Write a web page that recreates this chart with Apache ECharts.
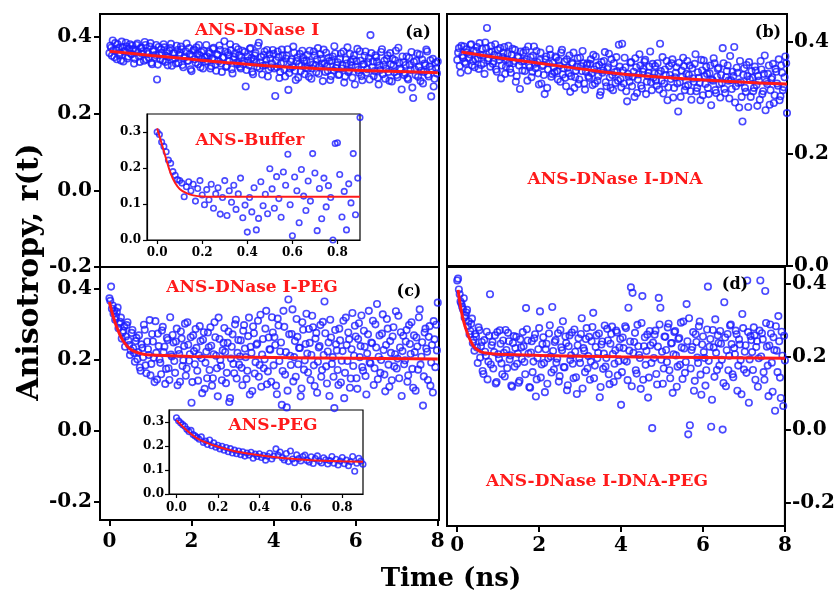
<!DOCTYPE html>
<html>
<head>
<meta charset="utf-8">
<script src="https://cdn.jsdelivr.net/npm/echarts@6/dist/echarts.min.js"></script>
<style>
  html, body { margin: 0; padding: 0; background: #fff; }
  #chart { width: 838px; height: 596px; }
</style>
</head>
<body>
<div id="chart"></div>
<script>
// 时间轴采样：主图 0~8 ns，每 0.04 ns 一组点，另一组错开 0.02 ns；插图 0~0.9 ns，每 0.01 ns 一个点
const mainStep = 0.04
const insetStep = 0.01

// (a) ANS-DNase I
const rA = [
  0.358, 0.372, 0.391, 0.347, 0.366, 0.381, 0.352, 0.339, 0.374, 0.362, 0.385, 0.344, 0.369, 0.357, 0.378, 0.331, 0.366, 0.383, 0.349, 0.371,
  0.356, 0.338, 0.379, 0.362, 0.346, 0.384, 0.329, 0.367, 0.353, 0.289, 0.374, 0.341, 0.358, 0.381, 0.335, 0.362, 0.348, 0.371, 0.325, 0.357,
  0.344, 0.377, 0.332, 0.359, 0.368, 0.321, 0.349, 0.383, 0.338, 0.355, 0.311, 0.364, 0.342, 0.373, 0.329, 0.352, 0.361, 0.318, 0.347, 0.379,
  0.336, 0.357, 0.324, 0.369, 0.341, 0.312, 0.353, 0.378, 0.331, 0.346, 0.389, 0.322, 0.359, 0.337, 0.365, 0.305, 0.348, 0.374, 0.329, 0.352,
  0.318, 0.364, 0.337, 0.271, 0.349, 0.326, 0.371, 0.309, 0.341, 0.358, 0.322, 0.385, 0.334, 0.302, 0.353, 0.327, 0.366, 0.315, 0.344, 0.331,
  0.356, 0.246, 0.321, 0.348, 0.309, 0.367, 0.333, 0.297, 0.351, 0.262, 0.318, 0.342, 0.375, 0.312, 0.337, 0.294, 0.356, 0.325, 0.346, 0.303,
  0.339, 0.317, 0.364, 0.291, 0.328, 0.352, 0.308, 0.371, 0.322, 0.343, 0.285, 0.331, 0.359, 0.312, 0.337, 0.298, 0.349, 0.376, 0.319, 0.334,
  0.302, 0.357, 0.326, 0.281, 0.341, 0.373, 0.313, 0.335, 0.294, 0.352, 0.322, 0.369, 0.307, 0.338, 0.287, 0.329, 0.362, 0.316, 0.345, 0.405,
  0.321, 0.298, 0.352, 0.335, 0.276, 0.314, 0.368, 0.327, 0.291, 0.343, 0.309, 0.358, 0.284, 0.326, 0.339, 0.301, 0.372, 0.318, 0.263, 0.334,
  0.306, 0.349, 0.289, 0.327, 0.361, 0.241, 0.315, 0.338, 0.296, 0.354, 0.312, 0.279, 0.331, 0.367, 0.302, 0.323, 0.245, 0.343, 0.291, 0.318,
  0.336
]
const rAmid = [
  0.377, 0.351, 0.366, 0.384, 0.342, 0.371, 0.359, 0.388, 0.336, 0.364, 0.375, 0.349, 0.381, 0.355, 0.368, 0.343, 0.379, 0.361, 0.335, 0.372,
  0.363, 0.387, 0.341, 0.356, 0.375, 0.333, 0.362, 0.347, 0.379, 0.328, 0.354, 0.368, 0.339, 0.373, 0.351, 0.326, 0.364, 0.382, 0.343, 0.358,
  0.331, 0.366, 0.353, 0.375, 0.327, 0.345, 0.362, 0.338, 0.371, 0.316, 0.351, 0.367, 0.333, 0.356, 0.379, 0.321, 0.342, 0.364, 0.336, 0.349,
  0.361, 0.318, 0.344, 0.372, 0.328, 0.355, 0.337, 0.366, 0.309, 0.347, 0.362, 0.324, 0.353, 0.381, 0.316, 0.341, 0.357, 0.333, 0.368, 0.322,
  0.347, 0.329, 0.361, 0.314, 0.338, 0.369, 0.345, 0.303, 0.352, 0.333, 0.377, 0.318, 0.348, 0.325, 0.362, 0.341, 0.297, 0.355, 0.321, 0.366,
  0.318, 0.339, 0.362, 0.293, 0.331, 0.352, 0.315, 0.344, 0.368, 0.306, 0.336, 0.322, 0.359, 0.288, 0.347, 0.329, 0.311, 0.364, 0.337, 0.319,
  0.353, 0.296, 0.334, 0.318, 0.362, 0.326, 0.342, 0.304, 0.355, 0.331, 0.367, 0.309, 0.324, 0.346, 0.288, 0.338, 0.313, 0.357, 0.326, 0.301,
  0.344, 0.318, 0.362, 0.297, 0.331, 0.309, 0.356, 0.325, 0.342, 0.276, 0.337, 0.314, 0.363, 0.298, 0.329, 0.351, 0.307, 0.334, 0.289, 0.358,
  0.336, 0.311, 0.347, 0.294, 0.326, 0.361, 0.303, 0.338, 0.317, 0.352, 0.286, 0.329, 0.343, 0.308, 0.364, 0.295, 0.332, 0.314, 0.349, 0.301,
  0.327, 0.293, 0.346, 0.314, 0.268, 0.335, 0.301, 0.357, 0.322, 0.285, 0.341, 0.309, 0.326, 0.362, 0.297, 0.339, 0.316, 0.271, 0.333, 0.305
]
const fitATime = [0, 1, 2, 3, 4, 5, 6, 7, 8]
const fitA = [0.363, 0.352, 0.342, 0.332, 0.324, 0.318, 0.313, 0.310, 0.307]

// (b) ANS-DNase I-DNA
const rB = [
  0.368, 0.389, 0.345, 0.376, 0.392, 0.361, 0.381, 0.372, 0.395, 0.358, 0.384, 0.369, 0.391, 0.352, 0.377, 0.388, 0.362, 0.399, 0.425, 0.371,
  0.356, 0.383, 0.365, 0.396, 0.347, 0.374, 0.389, 0.358, 0.381, 0.343, 0.369, 0.393, 0.352, 0.377, 0.362, 0.386, 0.339, 0.372, 0.316, 0.365,
  0.381, 0.348, 0.369, 0.392, 0.355, 0.337, 0.376, 0.361, 0.384, 0.344, 0.368, 0.326, 0.359, 0.307, 0.374, 0.351, 0.387, 0.338, 0.363, 0.346,
  0.372, 0.333, 0.358, 0.381, 0.342, 0.365, 0.321, 0.354, 0.376, 0.339, 0.361, 0.318, 0.349, 0.371, 0.333, 0.357, 0.384, 0.326, 0.347, 0.362,
  0.336, 0.369, 0.323, 0.351, 0.374, 0.331, 0.359, 0.311, 0.345, 0.366, 0.328, 0.352, 0.379, 0.318, 0.341, 0.362, 0.327, 0.348, 0.395, 0.334,
  0.397, 0.326, 0.355, 0.294, 0.338, 0.363, 0.321, 0.347, 0.371, 0.309, 0.342, 0.358, 0.317, 0.352, 0.368, 0.329, 0.345, 0.383, 0.314, 0.336,
  0.357, 0.322, 0.344, 0.397, 0.331, 0.308, 0.351, 0.366, 0.319, 0.341, 0.362, 0.301, 0.337, 0.355, 0.276, 0.328, 0.349, 0.372, 0.314, 0.343,
  0.323, 0.358, 0.297, 0.335, 0.361, 0.312, 0.346, 0.327, 0.368, 0.305, 0.339, 0.356, 0.318, 0.344, 0.287, 0.331, 0.362, 0.309, 0.352, 0.325,
  0.341, 0.389, 0.316, 0.337, 0.358, 0.299, 0.332, 0.347, 0.391, 0.321, 0.345, 0.283, 0.328, 0.258, 0.353, 0.311, 0.339, 0.364, 0.302, 0.336,
  0.318, 0.349, 0.286, 0.331, 0.366, 0.307, 0.343, 0.278, 0.325, 0.358, 0.314, 0.337, 0.291, 0.352, 0.326, 0.369, 0.303, 0.345, 0.319, 0.374,
  0.273
]
const rBmid = [
  0.381, 0.357, 0.393, 0.372, 0.364, 0.387, 0.349, 0.378, 0.396, 0.366, 0.355, 0.384, 0.371, 0.398, 0.359, 0.376, 0.343, 0.389, 0.367, 0.382,
  0.393, 0.361, 0.377, 0.351, 0.386, 0.368, 0.335, 0.373, 0.391, 0.356, 0.379, 0.362, 0.345, 0.388, 0.366, 0.329, 0.374, 0.358, 0.383, 0.349,
  0.366, 0.385, 0.331, 0.359, 0.373, 0.347, 0.392, 0.353, 0.364, 0.324, 0.381, 0.357, 0.341, 0.369, 0.318, 0.362, 0.377, 0.343, 0.355, 0.374,
  0.348, 0.367, 0.329, 0.386, 0.353, 0.336, 0.369, 0.344, 0.311, 0.363, 0.381, 0.337, 0.356, 0.325, 0.372, 0.348, 0.362, 0.315, 0.359, 0.339,
  0.361, 0.344, 0.377, 0.326, 0.357, 0.339, 0.305, 0.364, 0.349, 0.382, 0.321, 0.355, 0.337, 0.369, 0.314, 0.346, 0.373, 0.331, 0.356, 0.319,
  0.349, 0.372, 0.312, 0.343, 0.329, 0.364, 0.338, 0.302, 0.355, 0.333, 0.378, 0.322, 0.347, 0.365, 0.307, 0.339, 0.356, 0.328, 0.361, 0.344,
  0.331, 0.362, 0.315, 0.348, 0.373, 0.326, 0.341, 0.296, 0.357, 0.334, 0.369, 0.318, 0.345, 0.326, 0.363, 0.302, 0.338, 0.357, 0.321, 0.366,
  0.341, 0.312, 0.353, 0.329, 0.378, 0.318, 0.336, 0.296, 0.349, 0.367, 0.325, 0.343, 0.307, 0.358, 0.333, 0.371, 0.314, 0.338, 0.354, 0.301,
  0.327, 0.362, 0.309, 0.348, 0.331, 0.375, 0.316, 0.339, 0.292, 0.354, 0.327, 0.366, 0.302, 0.341, 0.318, 0.359, 0.284, 0.333, 0.348, 0.312,
  0.356, 0.323, 0.339, 0.297, 0.351, 0.312, 0.376, 0.329, 0.343, 0.288, 0.334, 0.361, 0.305, 0.347, 0.322, 0.296, 0.358, 0.314, 0.337, 0.362
]
const fitBTime = [0.1, 1, 2, 3, 4, 5, 6, 7, 8]
const fitB = [0.382, 0.372, 0.362, 0.352, 0.343, 0.337, 0.332, 0.328, 0.325]

// (c) ANS-DNase I-PEG
const rC = [
  0.372, 0.405, 0.352, 0.338, 0.321, 0.346, 0.301, 0.318, 0.276, 0.293, 0.265, 0.305, 0.241, 0.226, 0.283, 0.219, 0.252, 0.201, 0.268, 0.169,
  0.233, 0.298, 0.184, 0.251, 0.213, 0.156, 0.272, 0.205, 0.308, 0.144, 0.238, 0.191, 0.282, 0.221, 0.132, 0.261, 0.176, 0.319, 0.209, 0.248,
  0.163, 0.287, 0.227, 0.138, 0.259, 0.198, 0.301, 0.175, 0.242, 0.215, 0.079, 0.268, 0.187, 0.233, 0.141, 0.294, 0.204, 0.256, 0.118, 0.222,
  0.276, 0.171, 0.239, 0.148, 0.305, 0.211, 0.097, 0.258, 0.183, 0.226, 0.289, 0.134, 0.247, 0.081, 0.203, 0.271, 0.162, 0.312, 0.219, 0.186,
  0.254, 0.128, 0.297, 0.207, 0.169, 0.318, 0.236, 0.112, 0.274, 0.193, 0.245, 0.152, 0.326, 0.214, 0.176, 0.287, 0.131, 0.262, 0.228, 0.319,
  0.184, 0.241, 0.103, 0.296, 0.223, 0.073, 0.337, 0.158, 0.066, 0.369, 0.211, 0.272, 0.139, 0.252, 0.314, 0.187, 0.233, 0.119, 0.284, 0.198,
  0.329, 0.164, 0.247, 0.213, 0.291, 0.126, 0.275, 0.194, 0.238, 0.152, 0.306, 0.363, 0.181, 0.223, 0.098, 0.262, 0.207, 0.064, 0.243, 0.171,
  0.287, 0.136, 0.224, 0.092, 0.318, 0.196, 0.257, 0.147, 0.331, 0.211, 0.265, 0.118, 0.302, 0.238, 0.179, 0.281, 0.154, 0.217, 0.337, 0.189,
  0.246, 0.129, 0.299, 0.356, 0.208, 0.163, 0.273, 0.227, 0.111, 0.314, 0.186, 0.252, 0.142, 0.291, 0.215, 0.175, 0.323, 0.234, 0.098, 0.267,
  0.198, 0.283, 0.156, 0.244, 0.305, 0.121, 0.221, 0.262, 0.172, 0.341, 0.208, 0.071, 0.276, 0.231, 0.143, 0.294, 0.192, 0.108, 0.257, 0.298,
  0.360
]
const rCmid = [
  0.365, 0.343, 0.329, 0.312, 0.334, 0.288, 0.306, 0.259, 0.281, 0.236, 0.297, 0.254, 0.213, 0.275, 0.232, 0.194, 0.261, 0.221, 0.178, 0.243,
  0.207, 0.284, 0.162, 0.229, 0.311, 0.188, 0.251, 0.137, 0.219, 0.273, 0.201, 0.159, 0.292, 0.236, 0.174, 0.255, 0.143, 0.214, 0.269, 0.196,
  0.251, 0.128, 0.216, 0.279, 0.182, 0.238, 0.155, 0.305, 0.197, 0.263, 0.137, 0.224, 0.286, 0.169, 0.212, 0.252, 0.106, 0.277, 0.191, 0.148,
  0.235, 0.291, 0.127, 0.215, 0.263, 0.176, 0.318, 0.199, 0.142, 0.247, 0.221, 0.163, 0.279, 0.092, 0.236, 0.188, 0.299, 0.147, 0.255, 0.209,
  0.177, 0.281, 0.231, 0.146, 0.266, 0.102, 0.219, 0.293, 0.161, 0.242, 0.309, 0.185, 0.124, 0.258, 0.201, 0.337, 0.167, 0.229, 0.138, 0.276,
  0.263, 0.127, 0.315, 0.196, 0.248, 0.168, 0.292, 0.221, 0.113, 0.271, 0.185, 0.341, 0.207, 0.152, 0.264, 0.233, 0.097, 0.305, 0.172, 0.244,
  0.217, 0.286, 0.143, 0.323, 0.184, 0.259, 0.107, 0.234, 0.297, 0.171, 0.213, 0.274, 0.133, 0.248, 0.312, 0.188, 0.152, 0.283, 0.226, 0.129,
  0.254, 0.197, 0.309, 0.163, 0.241, 0.276, 0.121, 0.229, 0.182, 0.295, 0.148, 0.258, 0.207, 0.324, 0.169, 0.236, 0.102, 0.271, 0.193, 0.248,
  0.309, 0.176, 0.234, 0.145, 0.268, 0.199, 0.327, 0.158, 0.241, 0.287, 0.124, 0.219, 0.265, 0.181, 0.336, 0.203, 0.148, 0.277, 0.224, 0.187,
  0.251, 0.138, 0.297, 0.216, 0.174, 0.268, 0.113, 0.237, 0.319, 0.186, 0.249, 0.153, 0.287, 0.222, 0.264, 0.127, 0.241, 0.308, 0.179, 0.226
]
const fitCTime = [0, 0.05, 0.1, 0.15, 0.2, 0.3, 0.4, 0.5, 0.6, 0.8, 1, 2, 4, 6, 8]
const fitC = [0.362, 0.338, 0.318, 0.300, 0.285, 0.259, 0.242, 0.230, 0.223, 0.216, 0.213, 0.209, 0.206, 0.204, 0.202]

// (d) ANS-DNase I-DNA-PEG
const rD = [
  0.410, 0.385, 0.352, 0.338, 0.361, 0.314, 0.329, 0.297, 0.271, 0.305, 0.247, 0.263, 0.226, 0.281, 0.198, 0.241, 0.153, 0.214, 0.269, 0.187,
  0.372, 0.232, 0.168, 0.259, 0.131, 0.207, 0.273, 0.182, 0.245, 0.146, 0.219, 0.266, 0.193, 0.121, 0.238, 0.173, 0.255, 0.209, 0.134, 0.226,
  0.268, 0.186, 0.334, 0.245, 0.117, 0.212, 0.158, 0.251, 0.091, 0.197, 0.279, 0.143, 0.235, 0.183, 0.221, 0.126, 0.264, 0.201, 0.337, 0.165,
  0.246, 0.195, 0.132, 0.274, 0.218, 0.172, 0.256, 0.108, 0.229, 0.191, 0.267, 0.141, 0.214, 0.098, 0.251, 0.183, 0.306, 0.224, 0.158, 0.279,
  0.202, 0.137, 0.243, 0.321, 0.176, 0.259, 0.211, 0.089, 0.234, 0.167, 0.286, 0.197, 0.245, 0.125, 0.263, 0.208, 0.181, 0.272, 0.149, 0.226,
  0.068, 0.253, 0.191, 0.279, 0.136, 0.217, 0.391, 0.376, 0.241, 0.163, 0.288, 0.205, 0.112, 0.367, 0.229, 0.178, 0.261, 0.143, 0.232, 0.004,
  0.197, 0.272, 0.124, 0.362, 0.335, 0.214, 0.168, 0.255, 0.186, 0.291, 0.141, 0.238, 0.207, 0.271, 0.118, 0.249, 0.178, 0.226, 0.297, 0.156,
  0.345, -0.013, 0.012, 0.219, 0.268, 0.134, 0.241, 0.183, 0.297, 0.096, 0.256, 0.197, 0.163, 0.393, 0.228, 0.008, 0.274, 0.145, 0.211, 0.259,
  0.176, 0.236, 0.000, 0.350, 0.119, 0.263, 0.203, 0.289, 0.152, 0.224, 0.272, 0.107, 0.248, 0.191, 0.318, 0.165, 0.232, 0.410, 0.074, 0.257,
  0.213, 0.281, 0.137, 0.243, 0.196, 0.410, 0.265, 0.158, 0.381, 0.228, 0.092, 0.289, 0.184, 0.254, 0.052, 0.217, 0.312, 0.143, 0.269, 0.065,
  0.190
]
const rDmid = [
  0.415, 0.372, 0.347, 0.331, 0.308, 0.322, 0.284, 0.262, 0.291, 0.238, 0.217, 0.256, 0.183, 0.273, 0.229, 0.161, 0.246, 0.203, 0.138, 0.258,
  0.179, 0.241, 0.213, 0.127, 0.268, 0.195, 0.236, 0.152, 0.211, 0.274, 0.169, 0.243, 0.204, 0.118, 0.257, 0.224, 0.181, 0.129, 0.248, 0.194,
  0.229, 0.152, 0.276, 0.209, 0.115, 0.243, 0.187, 0.262, 0.138, 0.221, 0.325, 0.179, 0.254, 0.103, 0.236, 0.196, 0.287, 0.157, 0.216, 0.241,
  0.184, 0.265, 0.147, 0.226, 0.298, 0.171, 0.238, 0.122, 0.259, 0.204, 0.181, 0.275, 0.144, 0.232, 0.196, 0.263, 0.113, 0.217, 0.249, 0.168,
  0.255, 0.187, 0.282, 0.141, 0.227, 0.196, 0.264, 0.117, 0.242, 0.209, 0.173, 0.277, 0.152, 0.236, 0.283, 0.131, 0.218, 0.267, 0.188, 0.249,
  0.158, 0.224, 0.284, 0.187, 0.335, 0.242, 0.119, 0.211, 0.266, 0.154, 0.229, 0.197, 0.293, 0.137, 0.254, 0.216, 0.088, 0.271, 0.183, 0.239,
  0.261, 0.153, 0.228, 0.289, 0.192, 0.126, 0.256, 0.219, 0.281, 0.163, 0.237, 0.101, 0.268, 0.204, 0.173, 0.252, 0.294, 0.139, 0.223, 0.186,
  0.243, 0.306, 0.168, 0.227, 0.107, 0.262, 0.198, 0.284, 0.151, 0.234, 0.213, 0.121, 0.275, 0.189, 0.249, 0.082, 0.226, 0.303, 0.164, 0.238,
  0.271, 0.192, 0.128, 0.253, 0.218, 0.163, 0.286, 0.235, 0.144, 0.207, 0.262, 0.176, 0.234, 0.097, 0.279, 0.214, 0.156, 0.268, 0.193, 0.246,
  0.164, 0.259, 0.227, 0.118, 0.272, 0.201, 0.248, 0.137, 0.293, 0.176, 0.231, 0.264, 0.104, 0.219, 0.284, 0.158, 0.243, 0.087, 0.203, 0.258
]
const fitDTime = [0.02, 0.06, 0.1, 0.15, 0.2, 0.25, 0.3, 0.4, 0.5, 0.6, 0.8, 1, 2, 4, 6, 8]
const fitD = [0.384, 0.352, 0.326, 0.300, 0.281, 0.264, 0.250, 0.229, 0.219, 0.213, 0.209, 0.207, 0.204, 0.200, 0.198, 0.196]

// 插图 ANS-Buffer
const rBuffer = [
  0.300, 0.293, 0.272, 0.260, 0.245, 0.222, 0.213, 0.190, 0.180, 0.168,
  0.165, 0.158, 0.120, 0.148, 0.162, 0.137, 0.155, 0.108, 0.143, 0.165,
  0.125, 0.098, 0.140, 0.112, 0.155, 0.088, 0.128, 0.145, 0.072, 0.118,
  0.165, 0.068, 0.137, 0.105, 0.152, 0.085, 0.128, 0.172, 0.062, 0.097,
  0.022, 0.118, 0.078, 0.145, 0.028, 0.060, 0.162, 0.095, 0.127, 0.073,
  0.198, 0.142, 0.088, 0.176, 0.115, 0.063, 0.189, 0.152, 0.238, 0.098,
  0.012, 0.175, 0.137, 0.048, 0.196, 0.122, 0.082, 0.164, 0.108, 0.240,
  0.186, 0.026, 0.143, 0.059, 0.172, 0.092, 0.151, 0.118, 0.000, 0.268,
  0.270, 0.182, 0.064, 0.135, 0.028, 0.156, 0.103, 0.240, 0.070, 0.172,
  0.340
]
const fitBufferTime = [0, 0.02, 0.04, 0.06, 0.08, 0.1, 0.13, 0.16, 0.2, 0.3, 0.9]
const fitBuffer = [0.310, 0.268, 0.225, 0.185, 0.158, 0.142, 0.130, 0.124, 0.121, 0.120, 0.120]

// 插图 ANS-PEG
const rPeg = [
  0.318, 0.305, 0.297, 0.289, 0.282, 0.270, 0.260, 0.265, 0.248, 0.242,
  0.235, 0.228, 0.238, 0.215, 0.221, 0.206, 0.225, 0.201, 0.213, 0.195,
  0.203, 0.188, 0.199, 0.182, 0.194, 0.176, 0.189, 0.171, 0.183, 0.168,
  0.179, 0.164, 0.176, 0.158, 0.171, 0.162, 0.174, 0.149, 0.166, 0.156,
  0.168, 0.152, 0.161, 0.141, 0.157, 0.170, 0.146, 0.158, 0.188, 0.162,
  0.175, 0.151, 0.142, 0.169, 0.135, 0.179, 0.146, 0.130, 0.163, 0.148,
  0.138, 0.156, 0.162, 0.140, 0.133, 0.155, 0.127, 0.148, 0.159, 0.136,
  0.129, 0.151, 0.143, 0.125, 0.139, 0.156, 0.128, 0.145, 0.121, 0.137,
  0.152, 0.126, 0.141, 0.118, 0.134, 0.156, 0.095, 0.128, 0.149, 0.137,
  0.124
]
const fitPegTime = [0, 0.05, 0.1, 0.15, 0.2, 0.25, 0.3, 0.4, 0.5, 0.6, 0.7, 0.8, 0.9]
const fitPeg = [0.308, 0.265, 0.232, 0.212, 0.197, 0.185, 0.175, 0.161, 0.151, 0.144, 0.139, 0.136, 0.134]

const mainYTicks = [-0.2, 0, 0.2, 0.4]
const rightYTicksB = [0, 0.2, 0.4]
const mainXTicks = [0, 2, 4, 6, 8]
const insetYTicks = [0, 0.1, 0.2, 0.3]
const insetXTicks = [0, 0.2, 0.4, 0.6, 0.8]

const FONT = 'DejaVu Serif'
const BLUE = '#1c1cff'
const RED = '#ff1a1a'

// 把 y 数组和等间隔时间配成 [t, r]
const withTime = (arr, step, start = 0) => arr.map((v, i) => [+(start + i * step).toFixed(3), v])
const pairs = (ts, vs) => ts.map((t, i) => [t, vs[i]])
const mainData = (arr, mid) => withTime(arr, mainStep).concat(withTime(mid, mainStep, mainStep / 2))

const chart = echarts.init(document.getElementById('chart'))

function xAxisOf(grid, min, max, showTicks, ticks, opts = {}) {
  return {
    type: 'value', gridIndex: grid, min, max, position: 'bottom',
    splitLine: { show: false },
    axisLine: { show: true, onZero: false, lineStyle: { color: '#000', width: opts.tickW || 2 } },
    axisTick: { show: showTicks, inside: false, length: opts.tickLen || 6, customValues: ticks,
      lineStyle: { color: '#000', width: opts.tickW || 2 } },
    axisLabel: { show: showTicks, customValues: ticks, margin: opts.margin || 12,
      color: '#000', fontFamily: FONT, fontWeight: 'bold', fontSize: opts.fontSize || 20,
      formatter: opts.fmt || (v => String(v)) }
  }
}

function yAxisOf(grid, min, max, ticks, position, opts = {}) {
  return {
    type: 'value', gridIndex: grid, min, max, position,
    splitLine: { show: false },
    axisLine: { show: true, onZero: false, lineStyle: { color: '#000', width: opts.tickW || 2 } },
    axisTick: { show: true, inside: false, length: opts.tickLen || 6, customValues: ticks,
      lineStyle: { color: '#000', width: opts.tickW || 2 } },
    axisLabel: { show: true, customValues: ticks, margin: opts.margin || 8,
      color: '#000', fontFamily: FONT, fontWeight: 'bold', fontSize: opts.fontSize || 20,
      formatter: v => v.toFixed(1) }
  }
}

function scatterOf(idx, data, size) {
  return {
    type: 'scatter', xAxisIndex: idx, yAxisIndex: idx, data,
    symbol: 'circle', symbolSize: size,
    itemStyle: { color: 'rgba(255,255,255,0)', borderColor: BLUE, borderWidth: 1.6 },
    silent: true, z: 2
  }
}

function fitOf(idx, data, width) {
  return {
    type: 'line', xAxisIndex: idx, yAxisIndex: idx, data, smooth: 0.4,
    symbol: 'none', lineStyle: { color: RED, width }, silent: true, z: 5
  }
}

const insetOpts = { fontSize: 12, tickLen: 4, tickW: 1.2, margin: 7 }

function label(text, x, y, color, size, rotation) {
  return {
    type: 'text', x, y, rotation: rotation || 0, z: 10,
    style: { text, fill: color, font: `bold ${size}px "${FONT}"`,
      align: 'center', verticalAlign: 'middle', textAlign: 'center', textVerticalAlign: 'middle' }
  }
}

const boxStyle = { show: true, borderColor: '#000', borderWidth: 2, backgroundColor: 'transparent' }
const insetBox = { show: true, borderColor: '#000', borderWidth: 1.2, backgroundColor: '#fff' }

const option = {
  animation: false,
  backgroundColor: '#fff',
  grid: [
    { left: 100, top: 14, width: 339, height: 253, ...boxStyle },
    { left: 447, top: 14, width: 340, height: 252, ...boxStyle },
    { left: 100, top: 267, width: 339, height: 253, ...boxStyle },
    { left: 447, top: 267, width: 340, height: 259, ...boxStyle },
    { left: 147, top: 114, width: 213, height: 126, ...insetBox },
    { left: 169, top: 410, width: 194, height: 84, ...insetBox }
  ],
  xAxis: [
    xAxisOf(0, -0.23, 8.03, false, mainXTicks),
    xAxisOf(1, -0.25, 8, false, mainXTicks),
    xAxisOf(2, -0.23, 8.03, true, mainXTicks, { margin: 12 }),
    xAxisOf(3, -0.25, 8, true, mainXTicks, { margin: 10 }),
    xAxisOf(4, -0.045, 0.9, true, insetXTicks, { ...insetOpts, margin: 7, fmt: v => v.toFixed(1) }),
    xAxisOf(5, -0.036, 0.9, true, insetXTicks, { ...insetOpts, margin: 8, fmt: v => v.toFixed(1) })
  ],
  yAxis: [
    yAxisOf(0, -0.2, 0.46, mainYTicks, 'left'),
    yAxisOf(1, 0, 0.45, rightYTicksB, 'right', { margin: 7 }),
    yAxisOf(2, -0.25, 0.46, mainYTicks, 'left'),
    yAxisOf(3, -0.265, 0.447, mainYTicks, 'right', { margin: 7 }),
    yAxisOf(4, 0, 0.35, insetYTicks, 'left', { ...insetOpts, margin: 6 }),
    yAxisOf(5, 0, 0.35, insetYTicks, 'left', { ...insetOpts, margin: 5 })
  ],
  series: [
    scatterOf(0, mainData(rA, rAmid), 6.5),
    fitOf(0, pairs(fitATime, fitA), 3),
    scatterOf(1, mainData(rB, rBmid), 6.5),
    fitOf(1, pairs(fitBTime, fitB), 3),
    scatterOf(2, mainData(rC, rCmid), 6.5),
    fitOf(2, pairs(fitCTime, fitC), 3),
    scatterOf(3, mainData(rD, rDmid), 6.5),
    fitOf(3, pairs(fitDTime, fitD), 3),
    scatterOf(4, withTime(rBuffer, insetStep), 5.5),
    fitOf(4, pairs(fitBufferTime, fitBuffer), 2),
    scatterOf(5, withTime(rPeg, insetStep), 5.5),
    fitOf(5, pairs(fitPegTime, fitPeg), 2)
  ],
  graphic: [
    label('ANS-DNase I', 257, 31, RED, 17),
    label('(a)', 418, 33, '#000', 16),
    label('ANS-Buffer', 250, 141, RED, 17),
    label('ANS-DNase I-DNA', 615, 180, RED, 17),
    label('(b)', 768, 33, '#000', 16),
    label('ANS-DNase I-PEG', 252, 288, RED, 17),
    label('(c)', 409, 292, '#000', 16),
    label('ANS-PEG', 273, 426, RED, 17),
    label('(d)', 735, 285, '#000', 16),
    label('ANS-DNase I-DNA-PEG', 597, 482, RED, 17),
    label('Anisotropy, r(t)', 30, 272, '#000', 30, Math.PI / 2),
    label('Time (ns)', 451, 579, '#000', 26)
  ]
}

chart.setOption(option)
</script>
</body>
</html>
